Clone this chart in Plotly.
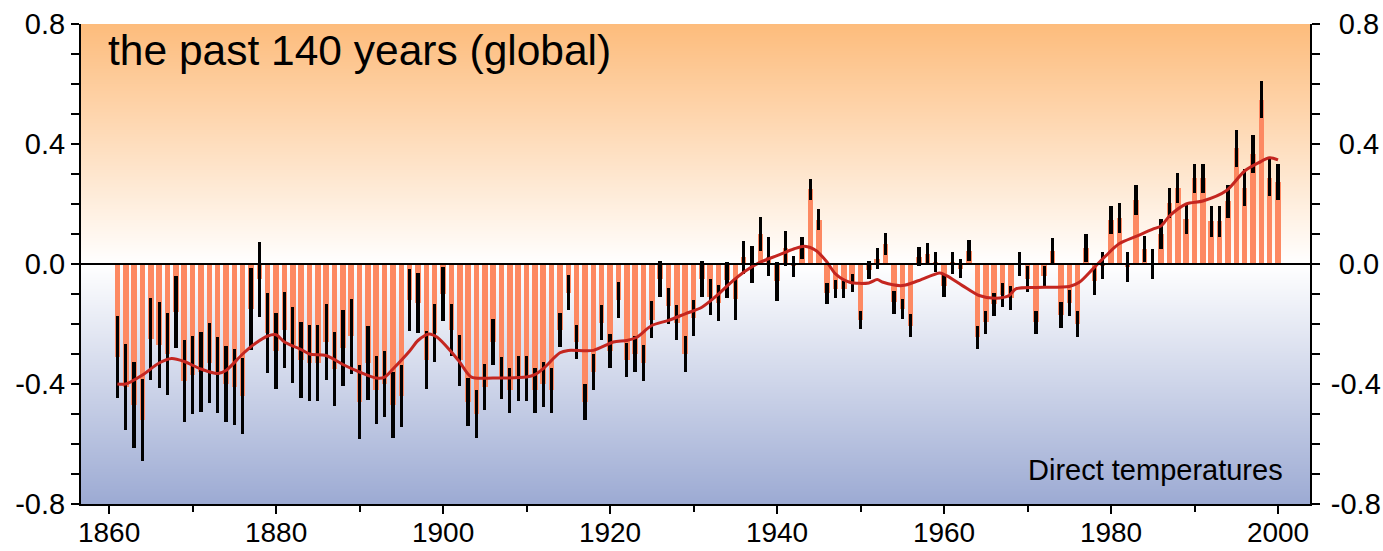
import plotly.graph_objects as go

# ---------------- data ----------------
years = list(range(1861, 2001))

anomaly = [
    -0.31, -0.41, -0.47, -0.52, -0.25, -0.27, -0.30, -0.16, -0.39, -0.37,   # 1861-1870
    -0.36, -0.33, -0.37, -0.40, -0.41, -0.44, -0.15, -0.05, -0.23, -0.29,   # 1871-1880
    -0.22, -0.27, -0.32, -0.33, -0.33, -0.26, -0.35, -0.28, -0.24, -0.46,   # 1881-1890
    -0.33, -0.42, -0.40, -0.47, -0.44, -0.12, -0.13, -0.32, -0.23, -0.10,   # 1891-1900
    -0.22, -0.32, -0.46, -0.50, -0.41, -0.26, -0.38, -0.42, -0.38, -0.38,   # 1901-1910
    -0.42, -0.40, -0.42, -0.22, -0.095, -0.26, -0.46, -0.36, -0.195, -0.29, # 1911-1920
    -0.12, -0.32, -0.30, -0.33, -0.185, -0.05, -0.14, -0.195, -0.30, -0.18, # 1921-1930
    -0.05, -0.11, -0.13, -0.054, -0.117, 0.022, -0.002, 0.10, 0.024, -0.058,  # 1931-1940
    0.053, -0.007, 0.053, 0.25, 0.148, -0.098, -0.083, -0.084, -0.063, -0.185, # 1941-1950
    -0.02, 0.017, 0.066, -0.128, -0.15, -0.205, 0.025, 0.035, 0.007, -0.074,   # 1951-1960
    0.004, -0.016, 0.045, -0.244, -0.194, -0.134, -0.104, -0.112, 0.0, -0.05,  # 1961-1970
    -0.194, -0.04, 0.044, -0.17, -0.13, -0.20, 0.054, -0.057, -0.004, 0.146,   # 1971-1980
    0.153, -0.01, 0.213, 0.05, 0.0, 0.10, 0.204, 0.255, 0.15, 0.286,           # 1981-1990
    0.286, 0.142, 0.142, 0.209, 0.386, 0.254, 0.367, 0.548, 0.288, 0.274,      # 1991-2000
]

uncertainty = [
    0.138, 0.144, 0.144, 0.136, 0.136, 0.142, 0.136, 0.119, 0.138, 0.130,
    0.133, 0.132, 0.127, 0.127, 0.126, 0.127, 0.136, 0.125, 0.133, 0.127,
    0.127, 0.127, 0.126, 0.127, 0.127, 0.127, 0.122, 0.127, 0.125, 0.123,
    0.122, 0.113, 0.111, 0.109, 0.104, 0.102, 0.100, 0.097, 0.097, 0.091,
    0.087, 0.085, 0.080, 0.081, 0.076, 0.077, 0.071, 0.075, 0.075, 0.075,
    0.075, 0.075, 0.075, 0.058, 0.059, 0.058, 0.060, 0.061, 0.059, 0.056,
    0.059, 0.058, 0.061, 0.061, 0.061, 0.061, 0.060, 0.059, 0.061, 0.060,
    0.061, 0.060, 0.060, 0.060, 0.070, 0.055, 0.061, 0.058, 0.065, 0.064,
    0.058, 0.035, 0.036, 0.035, 0.035, 0.035, 0.031, 0.029, 0.030, 0.030,
    0.029, 0.035, 0.037, 0.037, 0.034, 0.039, 0.033, 0.035, 0.034, 0.036,
    0.037, 0.032, 0.034, 0.039, 0.039, 0.038, 0.040, 0.040, 0.041, 0.044,
    0.039, 0.034, 0.044, 0.044, 0.042, 0.044, 0.046, 0.046, 0.045, 0.046,
    0.050, 0.051, 0.050, 0.044, 0.051, 0.050, 0.051, 0.050, 0.050, 0.049,
    0.049, 0.053, 0.053, 0.054, 0.062, 0.062, 0.062, 0.061, 0.061, 0.059,
]

smooth_years = [
    1861, 1862, 1864, 1866, 1867.5, 1869, 1871, 1873, 1874, 1876, 1877.5, 1879, 1880,
    1881, 1883, 1884, 1886, 1888, 1890, 1892, 1893, 1894, 1896, 1897, 1898.3, 1899.3,
    1901, 1902, 1903.4, 1906, 1910, 1911, 1912, 1914, 1915, 1918, 1920.4, 1922, 1923.2,
    1925, 1927, 1929, 1931, 1933, 1934.3, 1936.3, 1938, 1940, 1942, 1943.3, 1944.7,
    1946, 1947, 1948.7, 1951, 1952, 1952.7, 1955, 1957, 1959.5, 1960.3, 1962.2, 1964.2,
    1966.2, 1967.8, 1968.6, 1971, 1975, 1976.2, 1977.8, 1979.4, 1981, 1983, 1985,
    1986, 1987, 1989, 1991, 1993.8, 1996, 1997.7, 1999, 2000,
]
smooth_vals = [
    -0.40, -0.40, -0.37, -0.33, -0.315, -0.325, -0.35, -0.365, -0.355, -0.30, -0.265, -0.24, -0.236,
    -0.26, -0.285, -0.30, -0.305, -0.335, -0.36, -0.38, -0.377, -0.35, -0.29, -0.255, -0.233, -0.244,
    -0.293, -0.327, -0.377, -0.38, -0.377, -0.369, -0.349, -0.296, -0.288, -0.288, -0.26, -0.255, -0.244,
    -0.205, -0.188, -0.166, -0.144, -0.10, -0.066, -0.022, 0.006, 0.028, 0.05, 0.059, 0.044,
    0.006, -0.033, -0.061, -0.063, -0.052, -0.061, -0.072, -0.055, -0.03, -0.039, -0.072, -0.105,
    -0.114, -0.105, -0.083, -0.078, -0.075, -0.061, -0.017, 0.028, 0.068, 0.092, 0.116,
    0.127, 0.16, 0.20, 0.21, 0.244, 0.31, 0.338, 0.354, 0.347,
]

x_tick_vals = [1860, 1880, 1900, 1920, 1940, 1960, 1980, 2000]
x_tick_text = ["1860", "1880", "1900", "1920", "1940", "1960", "1980", "2000"]
y_tick_vals = [-0.8, -0.4, 0.0, 0.4, 0.8]
y_tick_text = ["-0.8", "-0.4", "0.0", "0.4", "0.8"]
# right-hand labels are right-aligned in the reference: pad the unsigned ones
y2_tick_text = ["-0.8", "-0.4", "\u20080.0", "\u20080.4", "\u20080.8"]

title_text = "the past 140 years (global)"
label_text = "Direct temperatures"

# ---------------- styling ----------------
X_RANGE = [1856.64, 2003.83]
Y_RANGE = [-0.8, 0.8]
FONT = "Liberation Sans, Arial, Helvetica, sans-serif"
NARROW_FONT = "Liberation Sans Narrow, Liberation Sans, Arial, sans-serif"
BAR_COLOR = "rgb(253,137,98)"
LINE_COLOR = "rgb(196,38,32)"

fig = go.Figure()

# background gradient (orange above zero, blue below)
fig.add_trace(go.Heatmap(
    x=X_RANGE, y=[Y_RANGE[0], 0.0, Y_RANGE[1]],
    z=[[Y_RANGE[0], Y_RANGE[0]], [0.0, 0.0], [Y_RANGE[1], Y_RANGE[1]]],
    zmin=Y_RANGE[0], zmax=Y_RANGE[1], zsmooth="best",
    colorscale=[[0.0, "rgb(156,170,211)"], [0.5, "rgb(255,255,255)"], [1.0, "rgb(253,188,124)"]],
    showscale=False, hoverinfo="skip",
))

fig.add_trace(go.Bar(
    x=years, y=anomaly, width=0.66,
    marker=dict(color=BAR_COLOR, line=dict(width=0)),
    error_y=dict(type="data", array=uncertainty, visible=True,
                 color="black", thickness=3.3, width=0),
    hoverinfo="x+y",
))

fig.add_trace(go.Scatter(
    x=smooth_years, y=smooth_vals, mode="lines",
    line=dict(color=LINE_COLOR, width=3, shape="spline", smoothing=0.8),
    hoverinfo="skip",
))

# invisible helper so the right-hand axis is drawn
fig.add_trace(go.Scatter(
    x=[smooth_years[0]], y=[smooth_vals[0]], yaxis="y2", mode="markers",
    marker=dict(opacity=0), hoverinfo="skip", showlegend=False,
))

axis_common = dict(
    showgrid=False, zeroline=False, showline=True, linecolor="black", linewidth=2,
    ticks="outside", ticklen=8, tickwidth=2, tickcolor="black", automargin=False,
)
y_font = dict(family=FONT, size=29, color="black")
x_font = dict(family=NARROW_FONT, size=28, color="black")

fig.update_layout(
    width=1383, height=551,
    margin=dict(l=81, r=73, t=24, b=47, autoexpand=False),
    paper_bgcolor="white", plot_bgcolor="white",
    showlegend=False, bargap=0,
    font=dict(family=FONT, color="black"),
    xaxis=dict(range=X_RANGE, tickmode="array", tickvals=x_tick_vals, ticktext=x_tick_text,
               tickfont=x_font, ticklabelstandoff=-6,
               minor=dict(tickmode="linear", tick0=1860, dtick=10, ticks="outside",
                          ticklen=6, tickwidth=2, tickcolor="black"),
               **axis_common),
    yaxis=dict(range=Y_RANGE, tickmode="array", tickvals=y_tick_vals, ticktext=y_tick_text,
               tickfont=y_font,
               minor=dict(tickmode="linear", tick0=-0.8, dtick=0.1, ticks="outside",
                          ticklen=8, tickwidth=2, tickcolor="black"),
               **axis_common),
    yaxis2=dict(range=Y_RANGE, overlaying="y", side="right", tickmode="array",
                tickvals=y_tick_vals, ticktext=y2_tick_text, tickfont=y_font,
                ticklabelstandoff=5,
                minor=dict(tickmode="linear", tick0=-0.8, dtick=0.1, ticks="outside",
                           ticklen=8, tickwidth=2, tickcolor="black"),
                **axis_common),
    shapes=[dict(type="line", xref="x domain", yref="y", x0=0, x1=1, y0=0, y1=0,
                 line=dict(color="black", width=2), layer="above")],
    annotations=[
        dict(text=title_text, xref="x domain", yref="y domain", x=0.02, y=0.945,
             xanchor="left", yanchor="middle", showarrow=False,
             font=dict(family=FONT, size=42.5, color="black")),
        dict(text=label_text, xref="x domain", yref="y domain", x=0.98, y=0.07,
             xanchor="right", yanchor="middle", showarrow=False,
             font=dict(family=FONT, size=29, color="black")),
    ],
)

fig.write_html("out.html", config={"displayModeBar": False},
               post_script="document.body.style.margin='0';")
